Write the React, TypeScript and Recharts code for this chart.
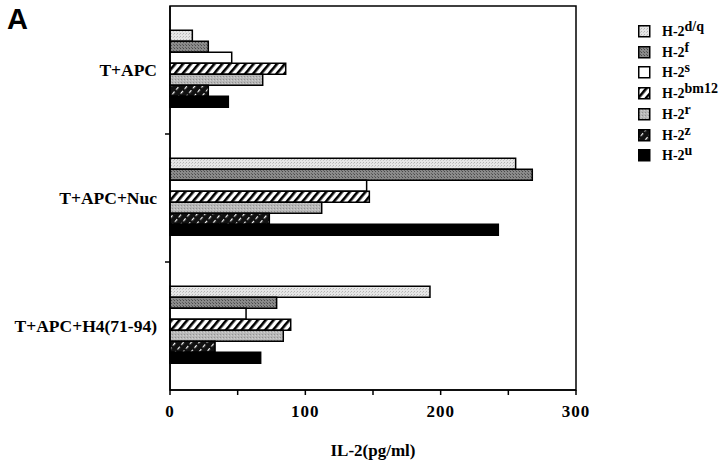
import React from 'react';
import { BarChart, Bar, XAxis, YAxis, ReferenceArea } from 'recharts';

const categories = ['T+APC', 'T+APC+Nuc', 'T+APC+H4(71-94)'];
const seriesKeys = ['dq', 'f', 's', 'bm12', 'r', 'z', 'u'];
const seriesSup = ['d/q', 'f', 's', 'bm12', 'r', 'z', 'u'];
const valuesDQ = [16.5, 255.4, 192.1];
const valuesF = [28.3, 267.7, 78.8];
const valuesS = [45.6, 145.3, 56.2];
const valuesBM12 = [85.5, 147.3, 89.2];
const valuesR = [68.5, 112.1, 83.7];
const valuesZ = [28.3, 73.4, 33.3];
const valuesU = [43.1, 242.6, 67.0];
const xTicks = [0, 50, 100, 150, 200, 250, 300];
const xTickLabels = ['0', '', '100', '', '200', '', '300'];
const xLabel = 'IL-2(pg/ml)';
const panelLabel = 'A';

const seriesValues = [valuesDQ, valuesF, valuesS, valuesBM12, valuesR, valuesZ, valuesU];
const data = categories.map((c, i) => {
  const row: Record<string, any> = { name: c };
  seriesKeys.forEach((k, j) => {
    row[k] = seriesValues[j][i];
  });
  return row;
});

const fills: Record<string, string> = {
  dq: 'url(#pDQ)',
  f: 'url(#pF)',
  s: '#ffffff',
  bm12: 'url(#pBM)',
  r: 'url(#pR)',
  z: 'url(#pZ)',
  u: '#000000',
};

const serif = '"Liberation Serif", "Times New Roman", serif';

const Patterns = () => (
  <svg width={0} height={0} style={{ position: 'absolute' }}>
    <defs>
      <pattern id="pDQ" patternUnits="userSpaceOnUse" width={3} height={3}>
        <rect width={3} height={3} fill="#e6e6e6" />
        <rect x={0} y={0} width={1} height={1} fill="#b5b5b5" />
        <rect x={2} y={1} width={1} height={1} fill="#c8c8c8" />
      </pattern>
      <pattern id="pF" patternUnits="userSpaceOnUse" width={3} height={3}>
        <rect width={3} height={3} fill="#8a8a8a" />
        <rect x={0} y={0} width={1} height={1} fill="#4a4a4a" />
        <rect x={2} y={2} width={1} height={1} fill="#5e5e5e" />
      </pattern>
      <pattern id="pR" patternUnits="userSpaceOnUse" width={3} height={3}>
        <rect width={3} height={3} fill="#b8b8b8" />
        <rect x={1} y={1} width={1} height={1} fill="#929292" />
        <rect x={0} y={2} width={1} height={1} fill="#d0d0d0" />
      </pattern>
      <pattern id="pBM" patternUnits="userSpaceOnUse" width={6} height={6} patternTransform="rotate(40)">
        <rect width={6} height={6} fill="#ffffff" />
        <rect x={0} y={0} width={2.6} height={6} fill="#000000" />
      </pattern>
      <pattern id="pZ" patternUnits="userSpaceOnUse" width={6} height={6} patternTransform="rotate(40)">
        <rect width={6} height={6} fill="#111111" />
        <rect x={0} y={0} width={1.2} height={3.5} fill="#ffffff" />
      </pattern>
    </defs>
  </svg>
);

const YTick = (props: any) => {
  const { x, y, payload, index, height, visibleTicksCount } = props;
  const n = visibleTicksCount || categories.length;
  let off = payload && typeof payload.offset === 'number' && payload.offset > 0 ? payload.offset : 0;
  if (!off && typeof height === 'number' && height > 0) off = height / (2 * n);
  const axisX = x + 13;
  return (
    <g>
      <text
        x={x}
        y={y}
        dy="0.36em"
        textAnchor="end"
        fontFamily={serif}
        fontWeight="bold"
        fontSize={17.5}
        fill="#000"
      >
        {payload.value}
      </text>
      {index < n - 1 && off > 0 ? (
        <line x1={axisX - 5} x2={axisX} y1={y + off} y2={y + off} stroke="#000" strokeWidth={1.5} />
      ) : null}
    </g>
  );
};

const Legend = () => (
  <div style={{ position: 'absolute', left: 638, top: 24 }}>
    {seriesKeys.map((k, i) => (
      <div key={k} style={{ position: 'absolute', left: 0, top: i * 20.7, height: 16, whiteSpace: 'nowrap' }}>
        <svg width={13} height={13} style={{ position: 'absolute', left: 0, top: 1 }}>
          <rect x={0.75} y={0.75} width={11} height={11} fill={fills[k]} stroke="#000" strokeWidth={1.5} />
        </svg>
        <span
          style={{
            position: 'absolute',
            left: 24,
            top: -1,
            fontFamily: serif,
            fontWeight: 'bold',
            fontSize: 14,
            lineHeight: '18px',
          }}
        >
          H-2
          <span style={{ position: 'relative', top: -5 }}>{seriesSup[i]}</span>
        </span>
      </div>
    ))}
  </div>
);

export default function App() {
  return (
    <div style={{ position: 'absolute', left: 0, top: 0, width: 720, height: 462, background: '#fff' }}>
      <Patterns />
      <div
        style={{
          position: 'absolute',
          left: 7,
          top: 2,
          fontFamily: '"Liberation Sans", Arial, sans-serif',
          fontWeight: 'bold',
          fontSize: 29,
          lineHeight: '34px',
        }}
      >
        {panelLabel}
      </div>
      <BarChart
        width={720}
        height={462}
        data={data}
        layout="vertical"
        margin={{ top: 6, right: 144, bottom: 0, left: 0 }}
        barCategoryGap="19%"
        barGap={0}
      >
        <XAxis
          type="number"
          domain={[0, 300]}
          ticks={xTicks}
          tickFormatter={(v: number) => xTickLabels[xTicks.indexOf(v)] ?? ''}
          height={72}
          axisLine={{ stroke: '#000', strokeWidth: 1.5 }}
          tickLine={{ stroke: '#000', strokeWidth: 1.5 }}
          tickSize={5}
          tickMargin={10}
          tick={{ fontFamily: serif, fontWeight: 'bold', fontSize: 17, fill: '#000', letterSpacing: 1 }}
          interval={0}
          label={{
            value: xLabel,
            position: 'insideBottom',
            offset: 6,
            fontFamily: serif,
            fontWeight: 'bold',
            fontSize: 17,
            fill: '#000',
          }}
        />
        <YAxis
          type="category"
          dataKey="name"
          width={170}
          axisLine={{ stroke: '#000', strokeWidth: 1.5 }}
          tickLine={false}
          tickSize={0}
          tickMargin={13}
          tick={<YTick />}
          interval={0}
        />
        <ReferenceArea x1={0} x2={300} fill="none" stroke="#000" strokeWidth={1.5} ifOverflow="visible" />
        {seriesKeys.map((k) => (
          <Bar
            key={k}
            dataKey={k}
            fill={fills[k]}
            stroke="#000"
            strokeWidth={1.5}
            isAnimationActive={false}
          />
        ))}
      </BarChart>
      <Legend />
    </div>
  );
}
